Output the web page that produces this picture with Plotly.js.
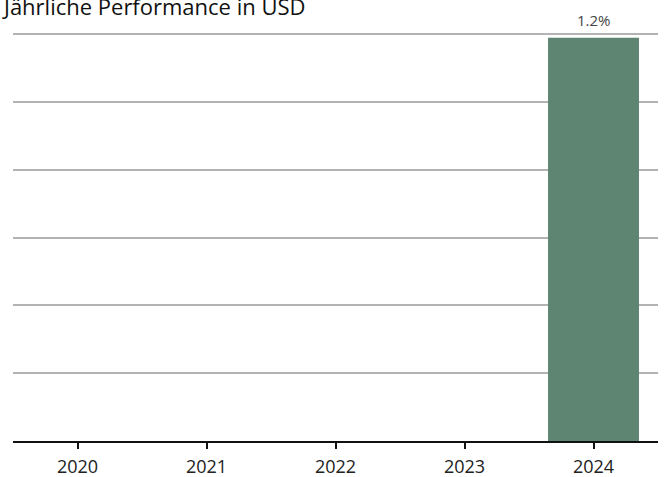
<!DOCTYPE html>
<html>
<head>
<meta charset="utf-8">
<script src="https://cdn.plot.ly/plotly-3.0.1.min.js"></script>
<style>html,body{margin:0;padding:0;background:#fff;}#chart{width:664px;height:477px;}</style>
</head>
<body>
<div id="chart"></div>
<script>
const years = ["2020", "2021", "2022", "2023", "2024"];
const performance = [null, null, null, null, 1.19];
const labels = ["", "", "", "", "1.2%"];

const FONT = "Open Sans, Noto Sans, sans-serif";

const annotations = [];
years.forEach((yr, i) => {
  if (performance[i] !== null && labels[i]) {
    annotations.push({
      x: i, y: performance[i], xref: "x", yref: "y",
      text: labels[i], showarrow: false,
      xanchor: "center", yanchor: "bottom", yshift: 6,
      font: {family: FONT, size: 15, color: "#444"}
    });
  }
});

Plotly.newPlot("chart", [{
  type: "bar",
  x: years,
  y: performance,
  marker: {color: "#5e8572"},
  width: 0.705,
  hoverinfo: "skip"
}], {
  width: 664, height: 477,
  margin: {l: 13, r: 6, t: 31, b: 36},
  paper_bgcolor: "#fff", plot_bgcolor: "#fff",
  showlegend: false,
  annotations: annotations,
  title: {
    text: "Jährliche Performance in USD",
    font: {family: FONT, size: 22, color: "#111"},
    x: 0.006, xanchor: "left", xref: "container",
    y: 0.984, yanchor: "middle", yref: "container"
  },
  xaxis: {
    type: "category",
    range: [-0.5, 4.5],
    showline: true, linecolor: "#111", linewidth: 2,
    ticks: "outside", ticklen: 6, tickwidth: 2, tickcolor: "#111",
    ticklabelstandoff: 2,
    tickfont: {family: FONT, size: 18, color: "#222"},
    showgrid: false, zeroline: false, fixedrange: true
  },
  yaxis: {
    range: [0, 1.21],
    tickvals: [0.2, 0.4, 0.6, 0.8, 1.0, 1.2],
    showticklabels: false,
    showgrid: true, gridcolor: "#b3b3b3", gridwidth: 2,
    zeroline: false, showline: false, ticks: "", fixedrange: true
  }
}, {displayModeBar: false, staticPlot: true});
</script>
</body>
</html>
